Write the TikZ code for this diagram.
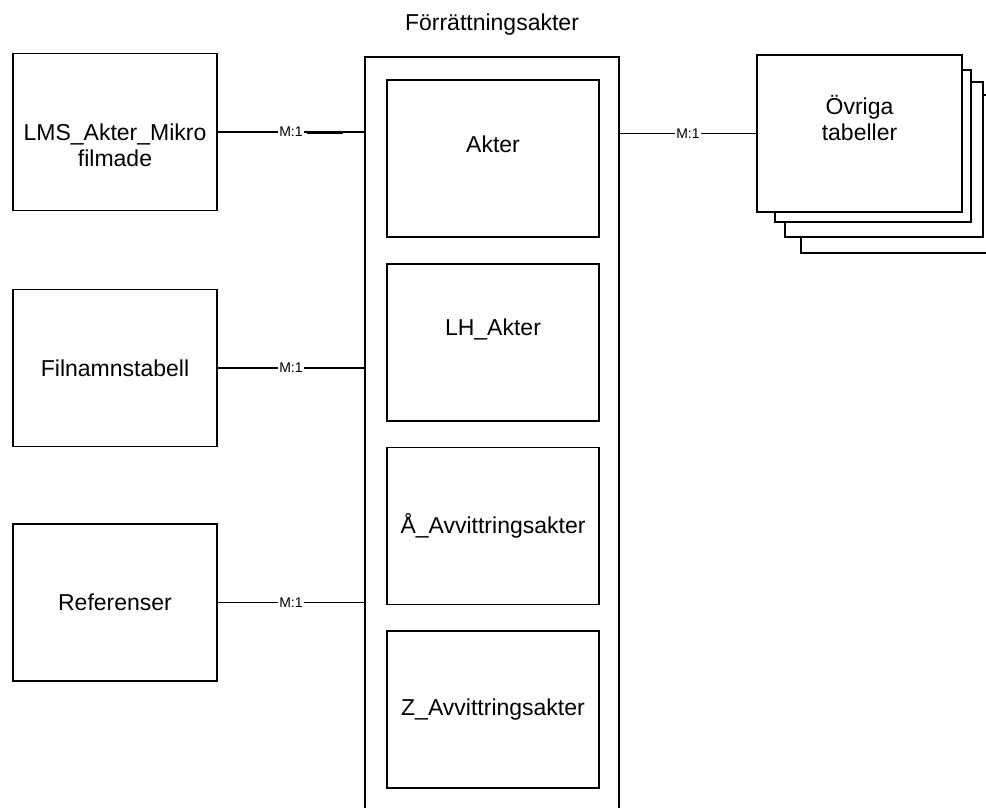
\documentclass[tikz,border=0pt]{standalone}
\usepackage{fontspec}
\setmainfont{Liberation Sans}
\usetikzlibrary{positioning}

\begin{document}
\begin{tikzpicture}[
  x=1pt, y=-1pt,
  node distance=25pt,
  line width=1.7pt,
  font=\fontsize{23}{26}\selectfont,
  tbl/.style={rectangle, draw, fill=white, minimum width=204pt, minimum height=157pt, align=center},
  part/.style={tbl, minimum width=212pt},
  rel/.style={font=\fontsize{14}{14}\selectfont, fill=white, inner sep=1.5pt}
]
  \useasboundingbox (0,0) rectangle (986,807);

  \node (title) at (492,25) {Förrättningsakter};
  \node (frame) [draw, minimum width=254pt, minimum height=800pt, anchor=north] at (492,56) {};

  \node (akter) [part, label={[yshift=14pt]center:Akter}] at (493,158.5) {};
  \node (lhakter) [part, below=of akter, label={[yshift=13pt]center:LH\_Akter}] {};
  \node (aavv) [part, below=of lhakter] {Å\_Avvittringsakter};
  \node (zavv) [part, below=of aavv] {Z\_Avvittringsakter};

  \node (lms) [tbl, label={[yshift=-13pt, align=center]center:LMS\_Akter\_Mikro\\filmade}] at (115,132) {};
  \node (filnamn) [tbl] at (115,368) {Filnamnstabell};
  \node (referenser) [tbl] at (115,602.5) {Referenser};

  % stacked tables behind
  \draw[fill=white] (801,95) rectangle (988,253);
  \draw[fill=white] (785,82) rectangle (983,237);
  \draw[fill=white] (775,70) rectangle (971,222);
  \node (ovriga) [tbl, minimum width=205pt, label={[yshift=16pt, align=center]center:Övriga\\tabeller}] at (859.5,133.5) {};

  \draw (lms.east) -- node[rel] {M:1} (lms.east -| frame.west);
  \draw ([xshift=89pt,yshift=-1.5pt]lms.east) -- ++(36,0);
  \draw (filnamn.east) -- node[rel] {M:1} (filnamn.east -| frame.west);
  \draw (referenser.east) -- node[rel] {M:1} (referenser.east -| frame.west);
  \draw (ovriga.west -| frame.east) -- node[rel] {M:1} (ovriga.west);
\end{tikzpicture}
\end{document}
